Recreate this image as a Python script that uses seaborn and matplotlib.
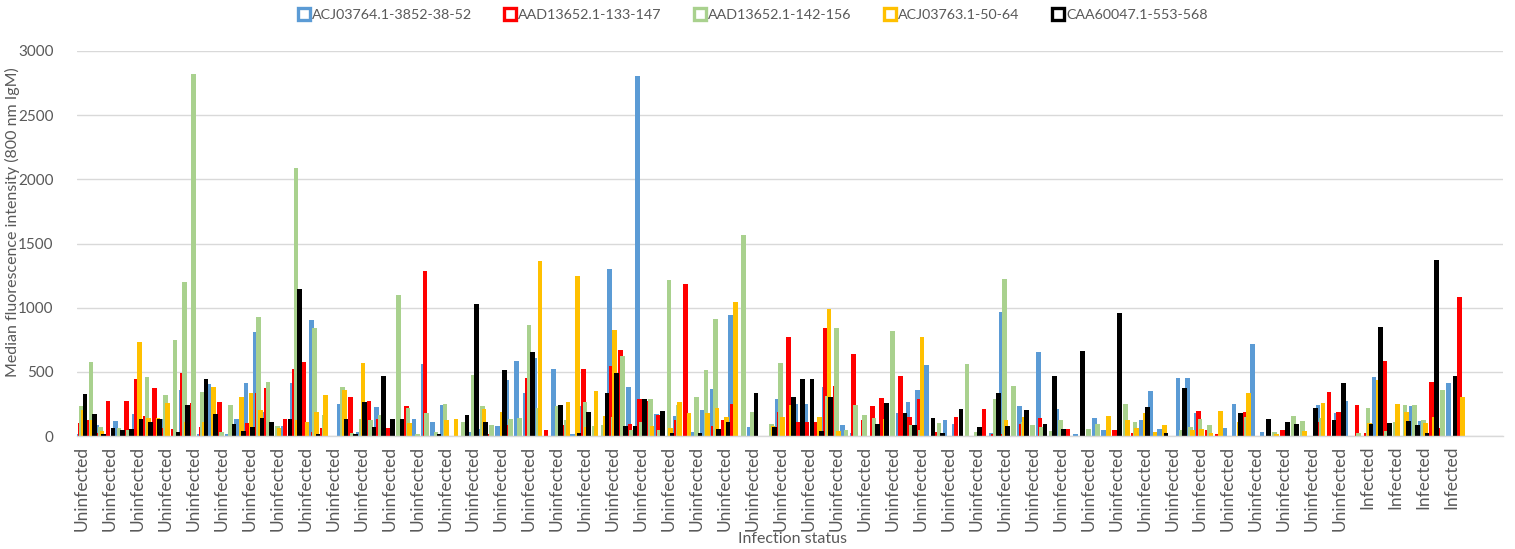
import numpy as np
import pandas as pd
import matplotlib
matplotlib.use("Agg")
import matplotlib.pyplot as plt
from matplotlib.lines import Line2D
import seaborn as sns

# ---------------- data ----------------
series_names = ["ACJ03764.1-3852-38-52", "AAD13652.1-133-147", "AAD13652.1-142-156",
                "ACJ03763.1-50-64", "CAA60047.1-553-568"]

status = ["Uninfected"] * 137 + ["Infected"] * 12 + [""] * 4

acj03764 = [15, 0, 85, 0, 117, 0, 170, 0, 0, 135,
            0, 358, 0, 15, 405, 0, 15, 135, 410, 810,
            190, 0, 75, 413, 0, 906, 0, 0, 247, 0,
            35, 0, 228, 0, 0, 0, 135, 561, 106, 240,
            0, 0, 30, 55, 0, 80, 436, 582, 335, 608,
            0, 520, 0, 15, 234, 0, 0, 1305, 0, 385,
            2805, 0, 169, 0, 158, 0, 29, 203, 367, 0,
            944, 0, 68, 0, 0, 289, 0, 247, 247, 0,
            385, 0, 86, 26, 0, 0, 0, 0, 177, 268,
            359, 554, 0, 122, 94, 0, 0, 0, 23, 965,
            0, 234, 0, 658, 0, 213, 0, 15, 0, 143,
            44, 0, 0, 0, 122, 351, 52, 0, 450, 450,
            177, 0, 0, 60, 247, 0, 715, 31, 0, 0,
            0, 0, 0, 242, 0, 177, 276, 0, 0, 463,
            0, 0, 0, 234, 117, 0, 0, 411, 0]

aad13652_133 = [100, 125, 20, 275, 0, 270, 444, 158, 374, 65,
                55, 490, 255, 73, 0, 268, 0, 0, 100, 332,
                374, 0, 135, 520, 574, 35, 65, 0, 0, 304,
                0, 275, 130, 65, 0, 234, 0, 1283, 0, 0,
                0, 0, 0, 0, 15, 0, 85, 0, 449, 0,
                47, 0, 85, 0, 520, 0, 0, 546, 670, 94,
                289, 273, 161, 0, 125, 1185, 0, 0, 80, 125,
                247, 0, 0, 0, 0, 190, 770, 112, 112, 112,
                840, 393, 0, 637, 125, 234, 296, 0, 468, 150,
                289, 0, 29, 0, 150, 0, 0, 213, 15, 15,
                0, 94, 0, 143, 0, 0, 57, 0, 0, 0,
                0, 44, 0, 23, 0, 0, 0, 0, 0, 0,
                198, 44, 15, 0, 0, 185, 0, 0, 0, 44,
                0, 0, 0, 107, 343, 190, 0, 240, 23, 0,
                582, 0, 0, 0, 0, 419, 65, 0, 1082]

aad13652_142 = [230, 580, 68, 0, 60, 50, 0, 457, 0, 317,
                748, 1200, 2820, 343, 0, 30, 240, 0, 0, 927,
                420, 80, 0, 2088, 0, 844, 164, 0, 379, 20,
                135, 125, 164, 0, 1096, 220, 15, 182, 30, 247,
                0, 110, 475, 234, 85, 0, 130, 143, 865, 220,
                0, 234, 125, 0, 268, 78, 85, 150, 624, 47,
                112, 289, 47, 1214, 240, 0, 304, 515, 913, 0,
                0, 1565, 190, 0, 91, 567, 0, 0, 0, 0,
                315, 845, 47, 240, 164, 143, 0, 816, 0, 86,
                47, 0, 99, 0, 0, 559, 29, 0, 289, 1222,
                392, 107, 83, 68, 39, 122, 0, 0, 52, 94,
                0, 0, 247, 112, 0, 0, 0, 0, 47, 73,
                135, 86, 0, 0, 0, 150, 0, 0, 31, 0,
                156, 117, 0, 143, 0, 0, 0, 23, 218, 0,
                36, 107, 240, 240, 122, 0, 359, 0, 0]

acj03763 = [200, 125, 40, 0, 0, 0, 735, 143, 143, 255,
            0, 110, 0, 110, 385, 0, 0, 304, 335, 203,
            0, 62, 0, 125, 110, 184, 317, 0, 358, 0,
            566, 0, 0, 0, 0, 100, 0, 0, 0, 122,
            135, 0, 0, 210, 0, 184, 0, 0, 0, 1365,
            0, 0, 262, 1248, 73, 351, 156, 824, 0, 0,
            0, 80, 0, 62, 262, 182, 0, 177, 221, 150,
            1043, 0, 0, 0, 80, 150, 240, 0, 0, 150,
            990, 39, 0, 0, 0, 0, 135, 0, 0, 0,
            770, 0, 0, 0, 0, 0, 0, 0, 0, 125,
            0, 148, 0, 0, 0, 0, 0, 0, 0, 0,
            156, 0, 122, 65, 182, 31, 86, 0, 0, 47,
            52, 23, 198, 0, 112, 338, 0, 0, 15, 0,
            0, 39, 0, 255, 0, 0, 0, 0, 99, 437,
            0, 247, 185, 0, 99, 150, 0, 0, 304]

caa60047 = [325, 170, 15, 60, 47, 57, 135, 110, 135, 0,
            30, 240, 0, 442, 170, 0, 94, 39, 73, 143,
            106, 0, 135, 1143, 0, 15, 0, 0, 130, 15,
            268, 73, 470, 135, 135, 0, 0, 0, 15, 0,
            0, 160, 1031, 106, 0, 514, 0, 0, 652, 0,
            0, 240, 0, 20, 185, 0, 338, 491, 80, 80,
            289, 0, 198, 23, 0, 0, 20, 0, 57, 109,
            0, 0, 338, 0, 68, 0, 307, 445, 445, 39,
            307, 0, 0, 0, 0, 94, 255, 0, 177, 86,
            0, 143, 23, 0, 213, 0, 73, 0, 338, 80,
            0, 205, 0, 94, 468, 57, 0, 665, 0, 0,
            0, 957, 0, 0, 226, 0, 23, 0, 374, 0,
            0, 0, 0, 0, 177, 0, 0, 135, 0, 107,
            94, 0, 218, 0, 122, 411, 0, 0, 94, 853,
            99, 0, 117, 86, 23, 1375, 0, 468, 0]

series_values = [acj03764, aad13652_133, aad13652_142, acj03763, caa60047]
colors = ["#5B9BD5", "#FF0000", "#A9D18E", "#FFC000", "#000000"]

# ---------------- style ----------------
sns.set_theme(style="white")
plt.rcParams["font.family"] = ["Lato", "DejaVu Sans"]
TXT = "#595959"

W, H = 1515, 549
fig = plt.figure(figsize=(W / 100, H / 100), dpi=100)
ax = fig.add_axes([77 / W, 1 - 436 / H, (1503 - 77) / W, (436 - 51) / H])

n_cat = len(status)
step = 0.177
for k, (vals, col) in enumerate(zip(series_values, colors)):
    xpos = np.arange(len(vals)) + (k - 2) * step
    df = pd.DataFrame({"x": xpos, "y": vals})
    sns.barplot(data=df, x="x", y="y", native_scale=True, color=col, saturation=1,
                width=0.5, errorbar=None, linewidth=0, ax=ax)

ax.set_xlim(-0.5, n_cat - 0.5)
ax.set_ylim(0, 3000)
ax.set_yticks(np.arange(0, 3001, 500))
ax.set_yticklabels([str(v) for v in range(0, 3001, 500)], color=TXT, fontsize=11)
ax.yaxis.grid(True, color="#D9D9D9", linewidth=1.0)
ax.set_axisbelow(True)

tick_idx = list(range(0, n_cat, 3))
ax.set_xticks(tick_idx)
ax.set_xticklabels([status[i] for i in tick_idx], rotation=90, color=TXT, fontsize=12.5)
ax.tick_params(axis="x", length=0, pad=7)
ax.tick_params(axis="y", length=0, pad=17)

for s in ["top", "right", "left"]:
    ax.spines[s].set_visible(False)
ax.spines["bottom"].set_color("#D9D9D9")
ax.spines["bottom"].set_linewidth(1.0)

ax.set_xlabel("")
ax.set_ylabel("")
fig.text(792 / W, 1 - 539 / H, "Infection status", color=TXT, fontsize=11.5,
         ha="center", va="center")
fig.text(12 / W, 1 - 222 / H, "Median fluorescence intensity (800 nm IgM)", color=TXT,
         fontsize=11.5, rotation=90, ha="center", va="center")

handles = [Line2D([0], [0], marker="s", linestyle="none", markersize=8.5,
                  markerfacecolor="white", markeredgecolor=c, markeredgewidth=2.4)
           for c in colors]
fig.legend(handles, series_names, loc="center", bbox_to_anchor=(753 / W, 1 - 15 / H),
           ncol=5, frameon=False, fontsize=10.3, labelcolor=TXT,
           handletextpad=0.15, columnspacing=2.3, handlelength=0.8)

fig.savefig("out.png", dpi=100)
